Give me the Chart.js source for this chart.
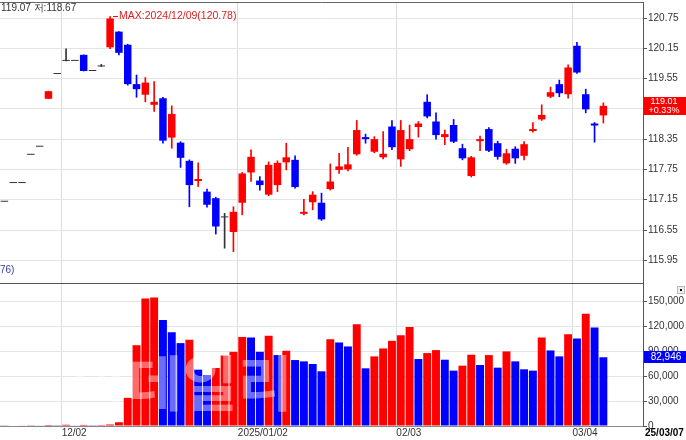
<!DOCTYPE html>
<html><head><meta charset="utf-8">
<script src="https://cdn.jsdelivr.net/npm/chart.js@4.4.1/dist/chart.umd.min.js"></script>
<style>
html,body{margin:0;padding:0;background:#fff;}
#wrap{position:relative;width:686px;height:440px;overflow:hidden;background:#fff;}
#pc{position:absolute;left:0;top:0;}
#vc{position:absolute;left:0;top:284px;}
</style></head><body>
<div id="wrap"><canvas id="pc" width="686" height="284"></canvas><canvas id="vc" width="686" height="156"></canvas></div>
<script>
const dates = ['2024-11-21','2024-11-22','2024-11-25','2024-11-26','2024-11-27','2024-11-28','2024-11-29',
'2024-12-02','2024-12-03','2024-12-04','2024-12-05','2024-12-06','2024-12-09','2024-12-10','2024-12-11','2024-12-12','2024-12-13',
'2024-12-16','2024-12-17','2024-12-18','2024-12-19','2024-12-20','2024-12-23','2024-12-24','2024-12-26','2024-12-27','2024-12-30',
'2025-01-02','2025-01-03','2025-01-06','2025-01-07','2025-01-08','2025-01-09','2025-01-10','2025-01-13','2025-01-14','2025-01-15',
'2025-01-16','2025-01-17','2025-01-20','2025-01-21','2025-01-22','2025-01-23','2025-01-24','2025-01-31',
'2025-02-03','2025-02-04','2025-02-05','2025-02-06','2025-02-07','2025-02-10','2025-02-11','2025-02-12','2025-02-13','2025-02-14',
'2025-02-17','2025-02-18','2025-02-19','2025-02-20','2025-02-21','2025-02-24','2025-02-25','2025-02-26','2025-02-27','2025-02-28',
'2025-03-04','2025-03-05','2025-03-06','2025-03-07'];
const openP = [117.11,117.48,117.48,118.04,118.20,119.15,119.64,119.90,119.90,120.02,119.70,119.79,120.17,120.48,120.22,119.44,119.23,
119.03,119.16,118.38,118.28,117.92,117.52,117.31,117.18,116.80,116.51,117.09,117.69,117.53,117.25,117.44,117.89,117.94,116.87,117.10,
117.09,117.36,117.74,117.75,118.05,118.39,118.10,117.99,118.60,117.95,118.15,118.59,119.09,118.70,118.39,118.63,118.17,117.62,118.31,
118.55,118.27,117.87,118.16,118.02,118.51,118.74,119.19,119.44,119.24,120.20,119.24,118.66,118.82];
const highP = [117.11,117.48,117.48,118.04,118.20,119.30,119.64,120.14,119.90,120.02,119.70,119.83,120.78,120.48,120.23,119.62,119.57,
119.49,119.18,119.01,118.30,117.94,117.88,117.36,117.20,116.88,117.01,117.69,118.14,117.61,117.90,117.92,118.27,118.02,117.16,117.31,
117.28,117.86,118.07,118.19,118.72,118.45,118.40,118.50,118.72,118.72,118.63,118.70,119.23,118.87,118.53,118.74,118.25,118.01,118.41,
118.58,118.31,118.15,118.20,118.30,118.68,119.03,119.38,119.52,119.82,120.27,119.34,118.68,119.07];
const lowP = [117.11,117.48,117.48,118.04,118.20,119.15,119.64,119.90,119.90,119.70,119.70,119.79,120.14,120.02,119.42,119.18,119.09,
118.90,118.27,118.17,117.79,117.01,117.41,117.00,116.47,116.19,116.12,116.85,117.51,117.34,117.23,117.31,117.74,117.38,116.85,116.95,
116.74,117.34,117.67,117.72,118.03,118.27,118.08,117.96,118.14,117.81,118.12,118.39,118.77,118.35,118.24,118.28,117.94,117.60,118.12,
118.10,117.95,117.85,117.87,117.94,118.49,118.72,119.17,119.19,119.16,119.65,118.87,118.29,118.67];
const closeP = [117.11,117.48,117.48,118.04,118.20,119.30,119.64,119.90,119.90,119.70,119.70,119.79,120.74,120.06,119.44,119.34,119.47,
119.09,118.32,118.85,117.98,117.44,117.56,117.05,116.62,116.80,116.91,117.67,118.00,117.44,117.84,117.88,117.99,117.40,116.91,117.25,
116.76,117.51,117.81,117.85,118.53,118.35,118.35,118.06,118.19,118.53,118.35,118.66,118.80,118.43,118.45,118.30,117.97,117.99,118.35,
118.12,118.00,118.07,117.97,118.25,118.55,118.83,119.28,119.26,119.77,119.67,118.94,118.62,119.01];
const volume = [800,600,700,900,500,1200,900,1500,700,1300,900,1100,1800,4500,34000,97500,154000,155000,128000,113000,100000,104000,
68000,61500,70000,85000,89500,107500,106800,89500,108800,85600,90800,79600,78000,74800,66000,104800,100800,96000,122800,69600,84000,
93600,102800,109600,119600,80800,88000,91600,80000,66800,72800,86000,73600,85600,70400,90000,78000,68400,66800,106800,91200,84000,
110800,105600,135500,119000,82946];
const tickDates = ['2024-12-02','2025-01-02','2025-02-03','2025-03-04'];
const tickLabels = ['12/02','2025/01/02','02/03','03/04'];
const priceTicks = [120.75,120.15,119.55,118.95,118.35,117.75,117.15,116.55,115.95];
const volumeTicks = [0,30000,60000,90000,120000,150000];
const lastDateLabel = '25/03/07';
const emptySlots = 4;

const RED = '#ff0000', BLUE = '#0000ff', DOJI = '#333333';
const AX = '"Liberation Sans Narrow","Liberation Sans",Arial,sans-serif';
const labels = dates.concat(Array(emptySlots).fill(''));
const tickIdx = tickDates.map(d => dates.indexOf(d));
const candleColor = closeP.map((c, i) => c > openP[i] ? RED : (c < openP[i] ? BLUE : DOJI));
const volColor = volume.map((v, i) => (i > 0 && v > volume[i - 1]) ? RED : BLUE);
const bodyData = openP.map((o, i) => [Math.min(o, closeP[i]), Math.max(o, closeP[i])]);
const wickData = lowP.map((l, i) => highP[i] > l ? [l, highP[i]] : null);
const vGrid = ctx => (ctx.type === 'tick' && tickIdx.includes(ctx.index)) ? '#dcdcdc' : 'rgba(0,0,0,0)';
const n = closeP.length - 1;
const noPad = s => { s.paddingTop = 0; s.paddingBottom = 0; s.paddingLeft = 0; s.paddingRight = 0; };

const pricePlugin = {
  id: 'priceDeco',
  afterDraw(chart) {
    const {ctx, chartArea: a, scales: {x, y}} = chart;
    ctx.save();
    ctx.strokeStyle = '#666'; ctx.lineWidth = 1;
    ctx.beginPath(); ctx.moveTo(0, a.top + 0.5); ctx.lineTo(a.right, a.top + 0.5); ctx.stroke();
    ctx.textBaseline = 'middle'; ctx.textAlign = 'left';
    ctx.fillStyle = '#333'; ctx.font = '10px ' + AX;
    ctx.fillText(highP[n].toFixed(2) + ' 저:' + lowP[n].toFixed(2), 1, 8);
    let mi = 0; highP.forEach((h, i) => { if (h > highP[mi]) mi = i; });
    const mx = x.getPixelForValue(mi), my = y.getPixelForValue(highP[mi]);
    ctx.strokeStyle = RED; ctx.beginPath(); ctx.moveTo(mx + 3, Math.round(my) + 0.5); ctx.lineTo(mx + 8, Math.round(my) + 0.5); ctx.stroke();
    ctx.fillStyle = '#e02020'; ctx.font = '10.5px ' + AX;
    ctx.fillText('MAX:' + dates[mi].replace(/-/g, '/') + '(' + highP[mi].toFixed(2) + ')', mx + 9, my);
    ctx.fillStyle = '#3a3aa8'; ctx.font = '10px ' + AX;
    ctx.fillText('76)', 0, 270);
    const cy = y.getPixelForValue(closeP[n]);
    ctx.fillStyle = RED; ctx.fillRect(a.right + 1, Math.round(cy) - 9, chart.width - a.right - 1, 18);
    ctx.fillStyle = '#fff'; ctx.textAlign = 'center'; ctx.font = '9px ' + AX;
    const chg = (closeP[n] - closeP[n - 1]) / closeP[n - 1] * 100;
    ctx.fillText(closeP[n].toFixed(2), 664, cy - 4);
    ctx.fillText((chg >= 0 ? '+' : '') + chg.toFixed(2) + '%', 664, cy + 5);
    ctx.restore();
  }
};

const volPlugin = {
  id: 'volDeco',
  afterDatasetsDraw(chart) {
    const {ctx} = chart;
    ctx.save();
    ctx.font = 'bold 60px "Noto Sans CJK KR"';
    ctx.fillStyle = 'rgba(255,255,255,0.42)';
    ctx.textBaseline = 'middle'; ctx.textAlign = 'left';
    ctx.fillText('이데일리', 72, 99);
    ctx.restore();
  },
  afterDraw(chart) {
    const {ctx, chartArea: a, scales: {y}} = chart;
    ctx.save();
    const cy = y.getPixelForValue(volume[n]);
    ctx.fillStyle = BLUE; ctx.fillRect(a.right + 1, Math.round(cy) - 6, chart.width - a.right - 1, 12);
    ctx.fillStyle = '#fff'; ctx.font = '10px ' + AX; ctx.textAlign = 'center'; ctx.textBaseline = 'middle';
    ctx.fillText(volume[n].toLocaleString('en-US'), 666, cy);
    ctx.fillStyle = '#000'; ctx.font = 'bold 10px ' + AX; ctx.textAlign = 'left';
    ctx.fillText(lastDateLabel, 645, 149);
    ctx.fillStyle = '#eeeeee'; ctx.fillRect(677, 2, 8, 8);
    ctx.strokeStyle = '#bbbbbb'; ctx.strokeRect(677.5, 2.5, 7, 7);
    ctx.fillStyle = '#000'; ctx.fillRect(680, 5, 2, 2);
    ctx.restore();
  }
};

const xBase = {
  type: 'category', offset: true,
  grid: {offset: true, color: vGrid, drawTicks: false},
};

new Chart(document.getElementById('pc'), {
  type: 'bar',
  data: {labels, datasets: [
    {data: wickData, backgroundColor: candleColor, barThickness: 1, grouped: false, order: 2},
    {data: bodyData, backgroundColor: candleColor, barPercentage: 0.85, categoryPercentage: 1, grouped: false, minBarLength: 1, order: 1}
  ]},
  options: {
    responsive: false, animation: false, devicePixelRatio: 1,
    layout: {padding: {top: 2, bottom: 1, left: 0, right: 0}},
    plugins: {legend: {display: false}, tooltip: {enabled: false}},
    scales: {
      x: Object.assign({}, xBase, {
        ticks: {display: false},
        border: {display: true, color: '#555'},
        afterFit: s => { s.height = 0; noPad(s); }
      }),
      y: {
        position: 'right', min: 115.50, max: 121.067,
        afterBuildTicks: s => { s.ticks = priceTicks.map(v => ({value: v})); },
        afterFit: s => { s.width = 43; noPad(s); },
        grid: {color: '#e4e4e4', tickColor: '#555', tickLength: 4},
        border: {display: true, color: '#555'},
        ticks: {color: '#333', padding: 1, font: {size: 10, family: AX}, callback: v => Number(v).toFixed(2)}
      }
    }
  },
  plugins: [pricePlugin]
});

new Chart(document.getElementById('vc'), {
  type: 'bar',
  data: {labels, datasets: [
    {data: volume, backgroundColor: volColor, barPercentage: 0.9, categoryPercentage: 1}
  ]},
  options: {
    responsive: false, animation: false, devicePixelRatio: 1,
    layout: {padding: 0},
    plugins: {legend: {display: false}, tooltip: {enabled: false}},
    scales: {
      x: Object.assign({}, xBase, {
        ticks: {autoSkip: false, minRotation: 0, maxRotation: 0, align: 'start', labelOffset: -4.4, padding: 1,
          color: '#333', font: {size: 10, family: AX},
          callback: (v, i) => { const k = tickIdx.indexOf(i); return k >= 0 ? tickLabels[k] : ''; }},
        border: {display: true, color: '#888'},
        afterFit: s => { s.height = 14; noPad(s); }
      }),
      y: {
        position: 'right', min: 0, max: 171350,
        afterBuildTicks: s => { s.ticks = volumeTicks.map(v => ({value: v})); },
        afterFit: s => { s.width = 43; noPad(s); },
        grid: {color: '#e4e4e4', tickColor: '#555', tickLength: 4},
        border: {display: true, color: '#555'},
        ticks: {color: '#333', padding: 1, font: {size: 10, family: AX}, callback: v => Number(v).toLocaleString('en-US')}
      }
    }
  },
  plugins: [volPlugin]
});
</script>
</body></html>
